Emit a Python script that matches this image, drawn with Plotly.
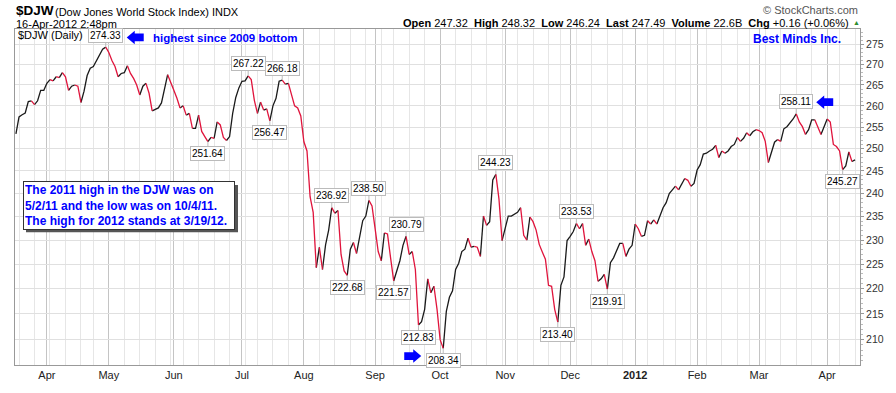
import pandas as pd
import numpy as np
import plotly.graph_objects as go

# ---------------- data ----------------
holidays = ["2011-04-22", "2011-05-30", "2011-07-04", "2011-09-05", "2011-11-24",
            "2011-12-26", "2012-01-02", "2012-01-16", "2012-02-20", "2012-04-06"]
start_date = "2011-03-18"
end_date = "2012-04-16"

close = [
    253.4, 257.4, 257.9, 258.3, 261.0, 261.2, 260.3, 261.2, 263.7, 263.7,
    265.4, 266.3, 266.0, 267.0, 266.8, 268.0, 267.0, 263.7, 264.7, 265.0,
    264.7, 260.8, 263.5, 267.3, 269.1, 269.5, 271.0, 272.6, 273.8, 274.33,
    273.0, 271.0, 269.5, 267.0, 267.8, 268.0, 269.7, 267.8, 266.6, 265.0,
    262.6, 264.7, 265.4, 263.0, 258.8, 259.2, 259.5, 260.7, 264.3, 267.5,
    265.4, 263.7, 261.8, 259.5, 260.0, 257.8, 258.2, 254.7, 254.7, 257.8,
    254.0, 252.8, 251.64,
    252.6, 252.4, 256.2, 255.5, 252.6, 251.9, 252.8, 258.2, 262.0, 264.3,
    265.9, 266.0, 267.22, 266.3, 261.3, 258.2, 260.9, 259.0, 259.3, 256.47,
    260.0, 261.8, 265.9, 266.18,
    265.2, 265.4, 262.5, 260.0, 259.5, 257.6, 251.6, 249.5, 239.3, 235.9,
    224.3, 228.5, 223.9, 229.0, 232.1, 236.92, 235.7, 236.3, 227.0, 223.6,
    222.68,
    228.1, 229.5, 227.2, 230.5, 234.1, 235.1, 238.5, 237.3, 232.4, 227.6,
    225.7, 231.5, 231.3, 226.3, 221.57, 223.9, 225.7, 228.9, 230.79, 227.0,
    227.6, 223.9, 212.83, 213.5, 215.9, 222.0, 219.2, 220.5, 215.9, 210.0,
    208.34,
    215.5, 218.3, 219.6, 223.9, 225.2, 227.6, 228.1, 230.4, 228.5, 228.7,
    228.5, 226.6, 235.1, 233.1, 233.9, 243.0, 244.23, 238.8, 229.9, 232.4,
    235.1, 235.1, 235.5, 235.9, 236.9, 231.0, 230.0, 234.9, 233.9, 232.1,
    229.1, 227.5, 226.0, 220.7, 220.5, 215.9, 213.4,
    220.7, 222.4, 229.9, 230.8, 231.8, 233.53, 232.4, 233.5, 228.9, 230.2,
    227.6, 225.7, 221.5, 222.0, 222.9, 219.91,
    225.3, 226.3, 228.0, 229.3, 229.3, 226.6, 228.1, 228.9, 233.4, 232.4,
    230.8, 231.0, 234.1, 233.4, 234.3, 233.4, 235.3, 236.9, 238.0, 240.0,
    240.8, 241.6, 240.8, 242.0, 243.3, 242.9, 241.6, 242.2, 245.2, 246.4,
    248.8, 249.0, 249.5, 249.9, 250.8, 248.0, 249.5, 249.0, 249.5, 250.5,
    251.0, 252.6, 251.7, 252.4, 253.7, 253.0, 253.9, 254.4, 254.2, 253.7,
    251.7, 246.9, 249.0, 251.5, 252.1, 251.7, 254.6, 255.1, 256.0, 256.9,
    258.11,
    256.2, 255.1, 253.3, 254.4, 256.7, 256.7, 254.9, 253.3, 255.1, 256.9,
    256.2, 251.0, 250.5, 249.5, 245.27, 246.1, 249.3, 247.1, 247.49,
]

# positions (trading-day index) of labelled highs and lows
high_labels_idx = [29, 75, 86, 102, 114, 126, 155, 181, 252]
low_labels_idx = [62, 82, 107, 122, 130, 138, 175, 191, 267]

y_ticks = [210, 215, 220, 225, 230, 235, 240, 245, 250, 255, 260, 265, 270, 275]
y_min, y_max = 205.2, 278.9

title_symbol = "$DJW"
title_name = "(Dow Jones World Stock Index) INDX"
timestamp = "16-Apr-2012 2:48pm"
quote = [("Open", "247.32"), ("High", "248.32"), ("Low", "246.24"),
         ("Last", "247.49"), ("Volume", "22.6B"), ("Chg", "+0.16 (+0.06%)")]
note_lines = ["The 2011 high in the DJW was on",
              "5/2/11 and the low was on 10/4/11.",
              "The high for 2012 stands at 3/19/12."]

# ---------------- calendar ----------------
dates = pd.bdate_range(start_date, end_date)
dates = dates[~dates.isin(pd.to_datetime(holidays))]
N = min(len(dates), len(close))
dates = dates[:N]
close = close[:N]
idx = list(range(N))

month_idx = [i for i in range(1, N) if dates[i].month != dates[i - 1].month]
month_txt = ["<b>%d</b>" % dates[i].year if dates[i].month == 1 else dates[i].strftime("%b")
             for i in month_idx]
week_idx = [i for i in range(1, N)
            if dates[i].isocalendar()[1] != dates[i - 1].isocalendar()[1]]

# ---------------- up / down runs ----------------
ux, uy, dx_, dy_ = [], [], [], []
i = 0
while i < N - 1:
    up = close[i + 1] >= close[i]
    j = i
    while j < N - 1 and (close[j + 1] >= close[j]) == up:
        j += 1
    xs = idx[i:j + 1] + [None]
    ys = close[i:j + 1] + [None]
    if up:
        ux += xs; uy += ys
    else:
        dx_ += xs; dy_ += ys
    i = j

BLACK = "#1a1a1a"
RED = "#e0143c"
BLUE = "#0000ff"
FONT = "Liberation Sans, Arial, sans-serif"

fig = go.Figure()
fig.add_trace(go.Scatter(x=ux, y=uy, mode="lines", line=dict(color=BLACK, width=1.3),
                         hoverinfo="skip", connectgaps=False))
fig.add_trace(go.Scatter(x=dx_, y=dy_, mode="lines", line=dict(color=RED, width=1.3),
                         hoverinfo="skip", connectgaps=False))

# ---------------- layout geometry ----------------
L, T, R, B = 15, 29, 36, 16
W, H = 896 - L - R, 393 - T - B
x_range = [-0.3, N - 1 + 1.6]


def px(x):
    return (x - L) / W


def py(y):
    return 1 - (y - T) / H


def data_px(k):
    """pixel position of the data point at index k"""
    xp = L + (k - x_range[0]) / (x_range[1] - x_range[0]) * W
    yp = T + (np.log(y_max) - np.log(close[k])) / (np.log(y_max) - np.log(y_min)) * H
    return xp, yp


ann = []
# price labels
for k in high_labels_idx:
    ann.append(dict(x=k, y=np.log10(close[k]), xref="x", yref="y", text="%.2f" % close[k],
                    showarrow=True, arrowhead=0, arrowwidth=1, arrowcolor="#bbbbbb",
                    ax=0, ay=-12, bgcolor="white", bordercolor="#bbbbbb", borderwidth=1,
                    borderpad=1, font=dict(family=FONT, size=10, color="#000")))
for k in low_labels_idx:
    ann.append(dict(x=k, y=np.log10(close[k]), xref="x", yref="y", text="%.2f" % close[k],
                    showarrow=True, arrowhead=0, arrowwidth=1, arrowcolor="#bbbbbb",
                    ax=0, ay=12, bgcolor="white", bordercolor="#bbbbbb", borderwidth=1,
                    borderpad=1, font=dict(family=FONT, size=10, color="#000")))

# header
ann.append(dict(x=px(14), y=py(10), xref="paper", yref="paper", xanchor="left", yanchor="middle",
                text="<b>%s</b>" % title_symbol, showarrow=False,
                font=dict(family=FONT, size=13.5, color="#000")))
ann.append(dict(x=px(53), y=py(11), xref="paper", yref="paper", xanchor="left", yanchor="middle",
                text=title_name, showarrow=False, font=dict(family=FONT, size=11, color="#000")))
ann.append(dict(x=px(14), y=py(24), xref="paper", yref="paper", xanchor="left", yanchor="middle",
                text=timestamp, showarrow=False, font=dict(family=FONT, size=11, color="#000")))
ann.append(dict(x=px(860), y=py(9), xref="paper", yref="paper", xanchor="right", yanchor="middle",
                text="© StockCharts.com", showarrow=False, font=dict(family=FONT, size=11, color="#555")))
qtxt = "\u00a0\u00a0".join("<b>%s</b> %s" % (a, b) for a, b in quote)
ann.append(dict(x=px(851), y=py(23), xref="paper", yref="paper", xanchor="right", yanchor="middle",
                text=qtxt, showarrow=False, font=dict(family=FONT, size=11, color="#000")))
ann.append(dict(x=px(856), y=py(22), xref="paper", yref="paper", xanchor="center", yanchor="middle",
                text="▲", showarrow=False, font=dict(family=FONT, size=7, color="#2e8b2e")))
ann.append(dict(x=px(16), y=py(35), xref="paper", yref="paper", xanchor="left", yanchor="middle",
                text="$DJW (Daily)", showarrow=False, font=dict(family=FONT, size=11, color="#000")))

# comments
ann.append(dict(x=px(151), y=py(38), xref="paper", yref="paper", xanchor="left", yanchor="middle",
                text="<b>highest since 2009 bottom</b>", showarrow=False,
                font=dict(family=FONT, size=11.5, color=BLUE)))
ann.append(dict(x=px(797), y=py(39), xref="paper", yref="paper", xanchor="center", yanchor="middle",
                text="<b>Best Minds Inc.</b>", showarrow=False,
                font=dict(family=FONT, size=12, color=BLUE)))

# note box with drop shadow
box_l, box_cy, box_w, box_h, pad = 23, 212, 212, 49, 1
note = "<br>".join("<b>%s</b>" % s for s in note_lines)
ann.append(dict(x=px(box_l), y=py(box_cy), xref="paper", yref="paper", xanchor="left", yanchor="middle",
                text=note, showarrow=False, align="left",
                width=box_w - 2 * pad - 2,
                bgcolor="white", bordercolor="#333", borderwidth=1, borderpad=pad,
                font=dict(family=FONT, size=12, color=BLUE)))


# blue block arrows placed relative to the labelled points (pixel offsets)
def arrow(k, dxp, dyp, direction):
    x0, y0 = data_px(k)
    tx, ty = x0 + dxp, y0 + dyp
    s = 1 if direction == "left" else -1
    pts = [(tx, ty), (tx + s * 8, ty - 7), (tx + s * 8, ty - 4), (tx + s * 17, ty - 4),
           (tx + s * 17, ty + 4), (tx + s * 8, ty + 4), (tx + s * 8, ty + 7)]
    path = "M" + " L".join("%.5f,%.5f" % (px(a), py(b)) for a, b in pts) + " Z"
    return dict(type="path", xref="paper", yref="paper", path=path,
                fillcolor=BLUE, line=dict(width=0), layer="above")


shapes = [
    dict(type="rect", xref="paper", yref="paper",
         x0=px(box_l + 3), x1=px(box_l + box_w + 3),
         y0=py(box_cy - box_h / 2 + 3), y1=py(box_cy + box_h / 2 + 3),
         fillcolor="#555", line=dict(width=0), layer="above"),
    arrow(29, 21, -10, "left"), arrow(138, -22, 8, "right"), arrow(252, 20, -12, "left"),
]

fig.update_layout(
    width=896, height=393,
    margin=dict(l=L, r=R, t=T, b=B),
    paper_bgcolor="white", plot_bgcolor="white",
    showlegend=False,
    annotations=ann, shapes=shapes,
    font=dict(family=FONT, size=11, color="#333"),
    xaxis=dict(range=x_range, tickmode="array", tickvals=month_idx, ticktext=month_txt,
               showgrid=True, gridcolor="#c4c4c4", gridwidth=1, zeroline=False,
               ticks="", showline=True, linecolor="#999", mirror=True,
               tickfont=dict(family=FONT, size=11, color="#222"),
               minor=dict(tickmode="array", tickvals=week_idx, showgrid=True,
                          gridcolor="#e6e6e6", gridwidth=1, ticks="")),
    yaxis=dict(type="log", range=[np.log10(y_min), np.log10(y_max)], side="right",
               tickmode="array", tickvals=y_ticks, ticktext=[str(v) for v in y_ticks],
               showgrid=True, gridcolor="#e0e0e0", zeroline=False,
               ticks="outside", ticklen=3, tickcolor="#999",
               showline=True, linecolor="#999", mirror=True,
               tickfont=dict(family=FONT, size=10.5, color="#333"),
               minor=dict(tickmode="array", tickvals=list(range(206, 279)), ticks="outside",
                          ticklen=2, tickcolor="#bbb", showgrid=False)),
)

fig.write_html("out.html", config={"displayModeBar": False},
               post_script="document.body.style.margin='0';document.body.style.overflow='hidden';")
